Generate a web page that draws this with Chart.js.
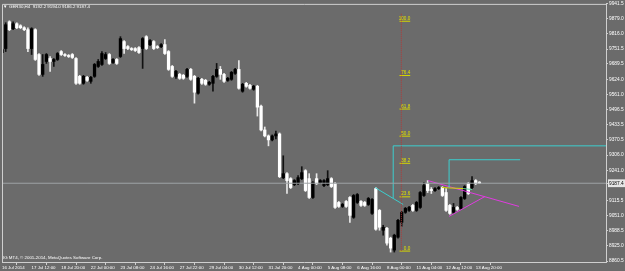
<!DOCTYPE html>
<html><head><meta charset="utf-8">
<style>html,body{margin:0;padding:0;background:#6b6b6b;overflow:hidden}canvas{display:block}</style>
<script src="https://cdn.jsdelivr.net/npm/chart.js@4/dist/chart.umd.min.js"></script>
</head><body>
<canvas id="c" width="625" height="271"></canvas>
<script>
// ---- data (GER30, H4) ----
const timeLabels = ["16 Jul 2014","17 Jul 12:00","18 Jul 20:00","22 Jul 00:00","23 Jul 08:00","24 Jul 16:00","27 Jul 22:00","29 Jul 04:00","30 Jul 12:00","31 Jul 20:00","4 Aug 00:00","5 Aug 08:00","6 Aug 16:00","8 Aug 00:00","11 Aug 04:00","12 Aug 12:00","13 Aug 20:00"];
const timeLabelBars = [0,8,16,24,32,40,48,56,64,72,80,88,96,104,112,120,128];
const priceTicks = [9941.5,9879.0,9816.0,9751.5,9689.5,9624.0,9561.0,9496.5,9433.5,9370.5,9306.0,9241.0,9115.5,9051.0,8988.5,8925.0,8860.5];
const bidPrice = 9187.4;
const opens = [9736.9,9753.7,9866.4,9837.1,9858.0,9849.7,9841.3,9833.0,9753.7,9833.0,
9728.6,9645.1,9699.4,9711.9,9699.4,9707.8,9741.1,9728.6,9724.4,9728.6,
9711.9,9636.8,9607.6,9632.6,9615.9,9636.8,9678.5,9686.9,9711.9,9728.6,
9695.2,9707.8,9720.3,9782.9,9762.0,9753.7,9753.7,9757.8,9753.7,9803.7,
9770.3,9782.9,9762.0,9762.0,9770.3,9741.1,9678.5,9636.8,9645.1,9641.0,
9636.8,9666.0,9636.8,9565.8,9624.3,9620.1,9603.4,9607.6,9636.8,9666.0,
9645.1,9620.1,9624.3,9649.3,9666.0,9574.2,9607.6,9599.2,9582.5,9595.1,
9511.6,9411.4,9386.3,9369.7,9386.3,9394.7,9211.0,9227.7,9206.9,9181.8,
9186.0,9206.9,9240.3,9206.9,9127.6,9206.9,9190.2,9177.6,9181.8,9206.9,
9186.0,9106.7,9090.0,9110.9,9127.6,9044.1,9106.7,9110.9,9106.7,9098.3,
9060.8,9165.1,9073.3,8989.8,8998.2,8956.4,8906.4,8960.6,9023.2,9065.0,
9073.3,9094.2,9073.3,9085.8,9135.9,9186.0,9160.9,9156.8,9165.1,9169.3,
9148.4,9094.2,9065.0,9085.8,9081.7,9123.4,9186.0,9169.3,9198.5,9192.2];
const highs = [9757.8,9862.2,9870.5,9866.4,9862.2,9853.9,9845.5,9841.3,9841.3,9837.1,
9732.8,9728.6,9732.8,9720.3,9711.9,9736.9,9745.3,9732.8,9728.6,9732.8,
9716.1,9641.0,9641.0,9636.8,9636.8,9691.1,9707.8,9741.1,9736.9,9732.8,
9711.9,9711.9,9803.7,9787.1,9766.2,9757.8,9757.8,9762.0,9799.6,9807.9,
9791.2,9787.1,9766.2,9774.5,9791.2,9745.3,9682.7,9661.8,9649.3,9645.1,
9670.2,9670.2,9641.0,9632.6,9628.5,9624.3,9615.9,9641.0,9691.1,9678.5,
9649.3,9632.6,9657.7,9670.2,9703.6,9607.6,9611.8,9603.4,9599.2,9599.2,
9515.8,9423.9,9390.5,9390.5,9407.2,9398.9,9302.9,9232.0,9211.0,9202.7,
9219.4,9257.0,9244.5,9227.7,9194.4,9227.7,9202.7,9202.7,9240.3,9211.0,
9190.2,9110.9,9102.5,9115.0,9131.7,9140.1,9144.3,9115.0,9110.9,9127.6,
9123.4,9169.3,9077.5,9010.7,9002.4,8960.6,8973.1,9035.8,9069.1,9085.8,
9090.0,9098.3,9110.9,9152.6,9190.2,9198.5,9169.3,9169.3,9173.5,9173.5,
9165.1,9098.3,9102.5,9090.0,9131.7,9177.6,9190.2,9215.2,9202.7,9194.0];
const lows = [9728.6,9741.1,9828.8,9833.0,9837.1,9837.1,9828.8,9741.1,9728.6,9703.6,
9641.0,9636.8,9691.1,9657.7,9678.5,9703.6,9724.4,9720.3,9716.1,9711.9,
9603.4,9603.4,9603.4,9615.9,9607.6,9632.6,9674.4,9682.7,9707.8,9686.9,
9691.1,9686.9,9716.1,9732.8,9749.5,9745.3,9741.1,9732.8,9670.2,9749.5,
9766.2,9749.5,9753.7,9757.8,9728.6,9661.8,9632.6,9628.5,9624.3,9624.3,
9632.6,9620.1,9524.1,9561.7,9603.4,9599.2,9599.2,9574.2,9632.6,9624.3,
9611.8,9615.9,9620.1,9645.1,9582.5,9570.0,9590.9,9582.5,9578.4,9469.8,
9407.2,9382.2,9344.6,9365.5,9373.8,9211.0,9206.9,9144.3,9165.1,9177.6,
9181.8,9202.7,9152.6,9123.4,9123.4,9181.8,9186.0,9173.5,9177.6,9169.3,
9081.7,9085.8,9085.8,9085.8,9023.2,9039.9,9102.5,9090.0,9090.0,9094.2,
9056.6,8989.8,8989.8,8969.0,8927.2,8898.0,8898.0,8956.4,9006.5,9060.8,
9069.1,9069.1,9069.1,9081.7,9131.7,9148.4,9144.3,9152.6,9160.9,9131.7,
9069.1,9056.6,9060.8,9073.3,9077.5,9119.2,9140.1,9165.1,9181.8,9186.2];
const closes = [9749.5,9853.9,9833.0,9858.0,9841.3,9841.3,9833.0,9753.7,9837.1,9707.8,
9645.1,9686.9,9728.6,9699.4,9707.8,9732.8,9728.6,9724.4,9720.3,9716.1,
9607.6,9607.6,9636.8,9620.1,9632.6,9686.9,9699.4,9732.8,9728.6,9691.1,
9707.8,9691.1,9795.4,9753.7,9753.7,9749.5,9745.3,9736.9,9795.4,9753.7,
9787.1,9753.7,9757.8,9770.3,9732.8,9666.0,9636.8,9657.7,9628.5,9628.5,
9666.0,9624.3,9570.0,9628.5,9607.6,9603.4,9611.8,9636.8,9666.0,9645.1,
9615.9,9628.5,9653.5,9666.0,9586.7,9603.4,9595.1,9586.7,9595.1,9507.4,
9411.4,9386.3,9369.7,9386.3,9394.7,9215.2,9227.7,9198.5,9169.3,9198.5,
9211.0,9232.0,9156.8,9127.6,9190.2,9186.0,9198.5,9198.5,9206.9,9173.5,
9085.8,9090.0,9098.3,9090.0,9052.4,9135.9,9140.1,9094.2,9094.2,9123.4,
9119.2,8994.0,9002.4,9002.4,8935.6,8914.7,8969.0,9031.6,9065.0,9081.7,
9085.8,9073.3,9106.7,9148.4,9177.6,9156.8,9156.8,9165.1,9169.3,9135.9,
9073.3,9060.8,9085.8,9077.5,9127.6,9173.5,9144.3,9198.5,9186.0,9187.4];

// drawn objects (bar index, price)
const fibBar = 107.9, fibLabelBar = 110.3, fibUnderlineStart = 107.4;
const fibHigh = 9868.5, fibLow = 8902.2, fibTop = 9899.8;
const fibLevels = [0, 23.6, 38.2, 50, 61.8, 76.4, 100];
const fibTexts = ["0.0","23.6","38.2","50.0","61.8","76.4","100.0"];
const cyanDiag = [[100.8,9169.3],[108.4,9098.3]];
const cyanBox1 = [[105.7,9124.8],[105.7,9344.6],[164,9344.6]];
const cyanBox2 = [[120.8,9169.3],[120.8,9286.2],[140,9286.2]];
const yellowSeg = [[118.9,9169.3],[124.6,9165.1]];
const greenSeg = [[124.6,9165.1],[127,9160.9]];
const magenta1 = [[115.1,9198.5],[139.7,9090.0]];
const magenta2 = [[120.8,9048.3],[130.5,9131.7]];
const titleText = "GER30,H4  9192.2 9194.0 9186.2 9187.4";
const copyText = "IG MT4, \u00A9 2001-2014, MetaQuotes Software Corp.";

// ---- chart ----
const FONT = '"Liberation Sans", Arial, sans-serif';
const bars = opens.map((o,i)=>i);
const up = i => closes[i] >= opens[i];
const pts = arr => arr.map(p=>({x:p[0], y:p[1]}));
const lineDs = (arr, color, extra) => Object.assign({type:'line', data:pts(arr), borderColor:color, borderWidth:1, pointRadius:0, fill:false, tension:0, order:0}, extra||{});

const datasets = [
  {type:'bar', data:bars.map(i=>({x:i, y:[opens[i], closes[i]]})), backgroundColor:bars.map(i=>up(i)?'#000000':'#ffffff'), barThickness:2.6, minBarLength:1, grouped:false, order:1},
  {type:'bar', data:bars.map(i=>({x:i, y:[lows[i], highs[i]]})), backgroundColor:bars.map(i=>up(i)?'#111111':'#e8e8e8'), barThickness:1, grouped:false, order:2},
  lineDs([[0,bidPrice],[164,bidPrice]], '#9ea3a6'),
  lineDs([[fibBar,fibTop],[fibBar,fibLow]], '#b23a3a', {borderDash:[1,1]}),
  ...fibLevels.map(l=>{const p=fibLow+(fibHigh-fibLow)*l/100; return lineDs([[fibUnderlineStart,p],[fibLabelBar,p]], '#d6d600');}),
  lineDs(cyanDiag, '#3ccfcf'),
  lineDs(cyanBox1, '#3ccfcf'),
  lineDs(cyanBox2, '#3ccfcf'),
  lineDs(yellowSeg, '#d6d600'),
  lineDs(greenSeg, '#5fd0a0'),
  lineDs(magenta1, '#e03ce0'),
  lineDs(magenta2, '#e03ce0'),
];

const overlay = {
  id:'overlay',
  afterDatasetsDraw(chart){
    const {ctx, chartArea:a, scales:{x,y}} = chart;
    ctx.save();
    ctx.strokeStyle = '#cfcfcf'; ctx.lineWidth = 1;
    ctx.beginPath(); ctx.moveTo(a.left+0.5, a.bottom); ctx.lineTo(a.left+0.5, a.top+0.5); ctx.lineTo(a.right, a.top+0.5); ctx.stroke();
    ctx.font = '4.6px ' + FONT; ctx.fillStyle = '#e0e000'; ctx.textAlign='right'; ctx.textBaseline='bottom';
    fibLevels.forEach((l,k)=>{const p=fibLow+(fibHigh-fibLow)*l/100; ctx.fillText(fibTexts[k], x.getPixelForValue(fibLabelBar), y.getPixelForValue(p)-0.5);});
    ctx.fillStyle = '#ffffff'; ctx.textAlign='left'; ctx.textBaseline='middle';
    ctx.font = '4.4px ' + FONT;
    ctx.fillText('\u25BC', a.left+1, a.top+3);
    ctx.fillText(titleText, a.left+7, a.top+3);
    ctx.fillText(copyText, a.left+1, a.bottom-4);
    ctx.restore();
  }
};

new Chart(document.getElementById('c'), {
  type:'bar',
  data:{datasets},
  options:{
    responsive:false, animation:false, devicePixelRatio:1, events:[],
    layout:{padding:{left:2, top:2, right:0, bottom:0}},
    plugins:{legend:{display:false}, tooltip:{enabled:false}, title:{display:false}},
    scales:{
      x:{type:'linear', position:'bottom', min:0, max:163.2, offset:false,
        grid:{display:true, drawOnChartArea:false, drawTicks:true, tickLength:3, color:'#cfcfcf'},
        border:{display:true, color:'#cfcfcf'},
        ticks:{autoSkip:false, maxRotation:0, align:'start', padding:0, color:'#ffffff', font:{family:FONT, size:4.4},
          callback:(v)=>{const k=timeLabelBars.indexOf(v); return k>=0?timeLabels[k]:'';}},
        afterBuildTicks:s=>{s.ticks=timeLabelBars.map(v=>({value:v}));},
        afterFit:s=>{s.height=9;}
      },
      y:{type:'linear', position:'right', min:8856.3, max:9941.5,
        grid:{display:true, drawOnChartArea:false, drawTicks:true, tickLength:2, color:'#cfcfcf'},
        border:{display:true, color:'#cfcfcf'},
        ticks:{autoSkip:false, padding:1, font:{family:FONT, size:4.8},
          color:c=>(c.tick&&c.tick.value===bidPrice)?'#000000':'#ffffff',
          showLabelBackdrop:c=>!!(c.tick&&c.tick.value===bidPrice),
          backdropColor:'#e6e6e6', backdropPadding:{top:1,bottom:1,left:1,right:2},
          callback:v=>v.toFixed(1)},
        afterBuildTicks:s=>{s.ticks=priceTicks.concat([bidPrice]).map(v=>({value:v}));},
        afterFit:s=>{s.width=19;}
      }
    }
  },
  plugins:[overlay]
});
</script>
</body></html>
